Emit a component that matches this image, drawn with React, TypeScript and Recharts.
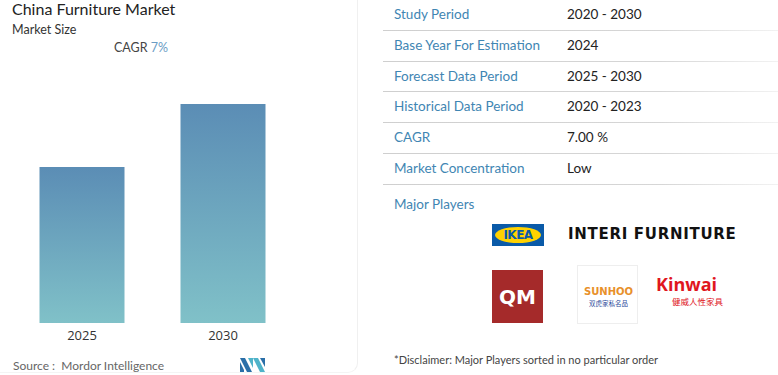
import { BarChart, Bar, XAxis, YAxis } from 'recharts';

const years = ['2025', '2030'];
const marketSize = [100, 140.3];
const infoLabels = ['Study Period', 'Base Year For Estimation', 'Forecast Data Period', 'Historical Data Period', 'CAGR', 'Market Concentration'];
const infoValues = ['2020 - 2030', '2024', '2025 - 2030', '2020 - 2023', '7.00 %', 'Low'];

const data = years.map((y, i) => ({ year: y, value: marketSize[i] }));

const FONT = 'Lato, "Open Sans", sans-serif';
const BLUE = '#3f86b3';

export default function App() {
  return (
    <div style={{ position: 'absolute', left: 0, top: 0, width: 778, height: 375, background: '#fff', fontFamily: FONT, overflow: 'hidden' }}>
      {/* left card */}
      <div style={{ position: 'absolute', left: 12, top: -1, fontSize: 16, color: '#222', fontWeight: 400 }}>China Furniture Market</div>
      <div style={{ position: 'absolute', left: 12, top: 22, fontSize: 12.5, color: '#333' }}>Market Size</div>
      <div style={{ position: 'absolute', left: 114, top: 40, fontSize: 12.5, color: '#444' }}>
        CAGR <span style={{ color: '#6a9cc4' }}>7%</span>
      </div>
      <div style={{ position: 'absolute', left: 0, top: 0, width: 357, height: 372, borderRight: '1px solid #f0f0f0', borderBottom: '1px solid #f4f4f4', borderBottomRightRadius: 10 }} />

      <div style={{ position: 'absolute', left: 0, top: 0 }}>
        <BarChart width={320} height={375} data={data} margin={{ top: 104, right: 26.5, bottom: 0, left: 11.5 }} barSize={85}>
          <defs>
            <linearGradient id="barGrad" x1="0" y1="0" x2="0" y2="1">
              <stop offset="0%" stopColor="#5b8db5" />
              <stop offset="100%" stopColor="#80c1c8" />
            </linearGradient>
          </defs>
          <XAxis dataKey="year" axisLine={false} tickLine={false} height={52} tick={{ fontSize: 13, fill: '#333', fontFamily: '"Open Sans", sans-serif' }} />
          <YAxis hide domain={[0, 'dataMax']} />
          <Bar dataKey="value" fill="url(#barGrad)" isAnimationActive={false} />
        </BarChart>
      </div>

      <div style={{ position: 'absolute', left: 13, top: 358, fontSize: 12, color: '#666', whiteSpace: 'pre' }}>Source :  Mordor Intelligence</div>
      <svg style={{ position: 'absolute', left: 240, top: 358 }} width={25} height={14}>
        <polygon points="0,0 5,0 12,14 7,14" fill="#2a6fa8" />
        <polygon points="0,4 4,12 4,14 0,14" fill="#2a6fa8" />
        <polygon points="8,0 13,0 13,10" fill="#4fb3c9" />
        <polygon points="13,0 18,0 25,14 20,14" fill="#4fb3c9" />
        <polygon points="20,0 25,0 25,9" fill="#2a6fa8" />
      </svg>

      {/* right info table */}
      {infoLabels.map((label, i) => (
        <div key={label} style={{ position: 'absolute', left: 383, top: i * 30.8, width: 395, height: 30.8 }}>
          <div style={{ position: 'absolute', left: 11, top: 6, fontSize: 13.5, color: BLUE }}>{label}</div>
          <div style={{ position: 'absolute', left: 184, top: 6, fontSize: 13.5, color: '#222' }}>{infoValues[i]}</div>
          <div style={{ position: 'absolute', left: 0, bottom: 0, width: 395, height: 1, background: 'linear-gradient(to right, #cfcfcf 0%, #d6d6d6 70%, #f2f2f2 100%)' }} />
        </div>
      ))}

      <div style={{ position: 'absolute', left: 394, top: 196, fontSize: 13.5, color: BLUE }}>Major Players</div>

      {/* logos */}
      <div style={{ position: 'absolute', left: 492, top: 224, width: 52, height: 22, background: '#0a5aa8', display: 'flex', alignItems: 'center', justifyContent: 'center' }}>
        <div style={{ width: 46, height: 16, borderRadius: '50%', background: '#ffd200', display: 'flex', alignItems: 'center', justifyContent: 'center', fontSize: 12, fontWeight: 900, color: '#0a5aa8', fontFamily: '"DejaVu Sans", sans-serif', letterSpacing: -0.5 }}>IKEA</div>
      </div>
      <div style={{ position: 'absolute', left: 568, top: 225, fontSize: 15, fontWeight: 700, color: '#111', letterSpacing: 0.7, fontFamily: '"DejaVu Sans", sans-serif' }}>INTERI FURNITURE</div>

      <div style={{ position: 'absolute', left: 492, top: 270, width: 51, height: 53, background: '#a52a2a', display: 'flex', alignItems: 'center', justifyContent: 'center', color: '#fff', fontWeight: 900, fontSize: 20, fontFamily: '"DejaVu Sans", sans-serif' }}>QM</div>

      <div style={{ position: 'absolute', left: 577, top: 265, width: 61, height: 59, border: '1px solid #eee', boxSizing: 'border-box' }}>
        <div style={{ position: 'absolute', left: 0, top: 20, width: 61, textAlign: 'center', fontSize: 10, fontWeight: 700, color: '#e8902a', fontFamily: '"DejaVu Sans", sans-serif' }}>SUNHOO</div>
        <div style={{ position: 'absolute', left: 0, top: 32, width: 61, textAlign: 'center', fontSize: 6.5, color: '#2c4b9a', fontFamily: '"Noto Sans CJK SC", sans-serif' }}>双虎家私名品</div>
      </div>

      <div style={{ position: 'absolute', left: 656, top: 275, fontSize: 18, lineHeight: '18px', fontWeight: 700, color: '#e0161e', fontFamily: '"Open Sans", sans-serif' }}>Kinwai</div>
      <div style={{ position: 'absolute', left: 672, top: 297, fontSize: 8.5, lineHeight: '9px', color: '#e0161e', fontFamily: '"Noto Sans CJK SC", sans-serif' }}>健威人性家具</div>

      <div style={{ position: 'absolute', left: 394, top: 353, fontSize: 11, color: '#444' }}>*Disclaimer: Major Players sorted in no particular order</div>
    </div>
  );
}
